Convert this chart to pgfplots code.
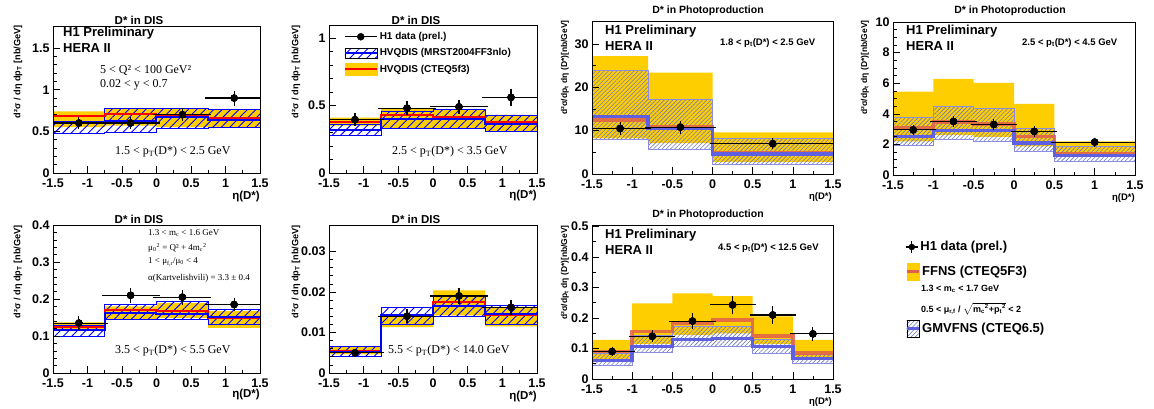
\documentclass[border=0pt]{standalone}
\usepackage{fontspec}
\setmainfont{Liberation Sans}
\newfontfamily\tms{Liberation Serif}
\usepackage{pgfplots}
\pgfplotsset{compat=1.18}
\usepackage{pgfplotstable}
\usepgfplotslibrary{fillbetween}
\usetikzlibrary{patterns.meta}

\definecolor{gold}{RGB}{255,206,0}
\definecolor{hrd}{RGB}{225,95,75}
\definecolor{hbl}{RGB}{95,95,225}
\definecolor{hout}{RGB}{140,140,225}
\definecolor{hhatch}{RGB}{110,120,190}

% ---------------- DIS tables: x yl yh yc bl bh bc
\pgfplotstableread{
x yl yh yc bl bh bc
-1.5 0.55 0.74 0.69 0.48 0.62 0.60
-0.75 0.57 0.78 0.71 0.49 0.78 0.63
0 0.55 0.78 0.69 0.54 0.78 0.67
0.75 0.55 0.76 0.66 0.55 0.76 0.64
1.5 0.55 0.76 0.66 0.55 0.76 0.64
}\thA
\pgfplotstableread{
x y ex es et
-1.125 0.60 0.375 0.035 0.055
-0.375 0.60 0.375 0.035 0.055
0.375 0.70 0.375 0.040 0.060
1.125 0.90 0.375 0.050 0.090
}\dA
\pgfplotstableread{
x yl yh yc bl bh bc
-1.5 0.35 0.41 0.375 0.28 0.36 0.32
-0.75 0.33 0.48 0.43 0.33 0.46 0.40
0 0.33 0.47 0.415 0.33 0.47 0.40
0.75 0.31 0.43 0.375 0.31 0.43 0.36
1.5 0.31 0.43 0.375 0.31 0.43 0.36
}\thB
\pgfplotstableread{
x y ex es et
-1.125 0.395 0.375 0.025 0.035
-0.375 0.48 0.375 0.030 0.045
0.375 0.49 0.375 0.030 0.045
1.125 0.56 0.375 0.040 0.065
}\dB
\pgfplotstableread{
x yl yh yc bl bh bc
-1.5 0.113 0.137 0.123 0.099 0.128 0.115
-0.75 0.144 0.180 0.171 0.144 0.185 0.162
0 0.149 0.189 0.168 0.146 0.194 0.160
0.75 0.122 0.167 0.149 0.131 0.171 0.151
1.5 0.122 0.167 0.149 0.131 0.171 0.151
}\thE
\pgfplotstableread{
x y ex es et
-1.125 0.135 0.375 0.010 0.015
-0.375 0.210 0.375 0.012 0.018
0.375 0.205 0.375 0.012 0.018
1.125 0.185 0.375 0.010 0.016
}\dE
\pgfplotstableread{
x yl yh yc bl bh bc
-1.5 0.0046 0.0066 0.0054 0.0041 0.0066 0.0052
-0.75 0.0113 0.0142 0.0140 0.0120 0.0161 0.0142
0 0.0142 0.0204 0.0175 0.0140 0.0188 0.0165
0.75 0.0115 0.0163 0.0142 0.0120 0.0166 0.0146
1.5 0.0115 0.0163 0.0142 0.0120 0.0166 0.0146
}\thF
\pgfplotstableread{
x y ex es et
-1.125 0.0050 0.375 0.0003 0.0005
-0.375 0.0140 0.375 0.0010 0.0015
0.375 0.0190 0.375 0.0013 0.0020
1.125 0.0162 0.375 0.0011 0.0017
}\dF
% ---------------- Photoproduction tables
\pgfplotstableread{
x yl yh yc bl bh bc
-1.5 8.2 27.2 12.5 8.0 23.8 13.3
-0.8 7.1 23.4 10.8 5.7 17.2 10.5
0 2.8 9.6 4.8 2.1 8.2 4.6
1.5 2.8 9.6 4.8 2.1 8.2 4.6
}\thC
\pgfplotstableread{
x y ex es et
-1.15 10.5 0.35 0.8 1.3
-0.4 10.8 0.4 0.8 1.4
0.75 7.0 0.75 0.6 1.0
}\dC
\pgfplotstableread{
x yl yh yc bl bh bc
-1.5 2.2 5.45 3.07 1.91 3.78 2.52
-1 2.6 6.28 3.46 2.3 4.48 2.91
-0.5 2.5 6.02 3.35 2.2 4.37 2.90
0 1.87 4.65 2.52 1.54 3.07 2.09
0.5 1.2 2.2 1.39 0.91 1.87 1.26
1.5 1.2 2.2 1.39 0.91 1.87 1.26
}\thD
\pgfplotstableread{
x y ex es et
-1.25 2.95 0.25 0.15 0.30
-0.75 3.50 0.25 0.15 0.30
-0.25 3.30 0.25 0.15 0.30
0.25 2.85 0.25 0.15 0.30
1.0 2.15 0.5 0.10 0.20
}\dD
\pgfplotstableread{
x yl yh yc bl bh bc
-1.5 0.062 0.128 0.090 0.046 0.084 0.060
-1 0.115 0.248 0.155 0.086 0.144 0.106
-0.5 0.145 0.281 0.183 0.106 0.172 0.130
0 0.150 0.272 0.194 0.108 0.172 0.133
0.5 0.115 0.205 0.141 0.084 0.130 0.106
1 0.065 0.128 0.086 0.051 0.079 0.068
1.5 0.065 0.128 0.086 0.051 0.079 0.068
}\thG
\pgfplotstableread{
x y ex es et
-1.25 0.090 0.25 0.006 0.010
-0.75 0.140 0.25 0.010 0.016
-0.25 0.190 0.25 0.015 0.025
0.25 0.243 0.25 0.020 0.030
0.75 0.210 0.25 0.018 0.028
1.25 0.148 0.25 0.014 0.022
}\dG

\pgfplotsset{
  rootax/.style={scale only axis, anchor=south west,
    xmin=-1.5, xmax=1.5,
    xtick={-1.5,-1,-0.5,0,0.5,1,1.5}, xticklabels={-1.5,-1,-0.5,0,0.5,1,1.5},
    scaled y ticks=false, scaled x ticks=false,
    minor x tick num=1, tick align=inside, xtick pos=bottom, ytick pos=left,
    major tick length=7pt, minor tick length=3.5pt,
    every tick/.style={black, line width=0.6pt},
    axis line style={line width=0.8pt},
    ticklabel style={font=\fontsize{12.5}{12.5}\selectfont\bfseries},
    xticklabel style={yshift=-2.5pt},
    /pgf/number format/assume math mode=true,
    axis on top, clip=true},
  datax/.style={only marks, mark=*, mark size=3.5pt, black, forget plot,
    error bars/.cd, x dir=both, x explicit,
    error bar style={line width=1.1pt, black},
    error mark options={black, line width=1.1pt, mark size=3pt}},
  datayt/.style={only marks, mark=*, mark size=3.5pt, black, forget plot,
    error bars/.cd, y dir=both, y explicit, error mark=none,
    error bar style={line width=1.1pt, black}},
  datays/.style={only marks, mark=*, mark size=3.5pt, black, forget plot,
    error bars/.cd, y dir=both, y explicit,
    error bar style={line width=1.1pt, black},
    error mark options={black, line width=1.1pt, mark size=3pt}},
  legax/.style={hide axis, scale only axis, anchor=south west, at={(893pt,-379pt)},
    width=242pt, height=154pt, xmin=0, xmax=1, ymin=0, ymax=1,
    legend style={draw=none, fill=none, font=\fontsize{13}{13}\selectfont\bfseries,
      inner sep=0pt, cells={anchor=west}}, legend cell align=left},
}

\newcommand{\datapts}[1]{%
  \addplot[datayt] table[x=x,y=y,y error=et]{#1};
  \addplot[datays] table[x=x,y=y,y error=es]{#1};
  \addplot[datax] table[x=x,y=y,x error=ex]{#1};
}
\newcommand{\disbands}[1]{%
  \addplot[const plot, draw=none, name path=yh, forget plot] table[x=x,y=yh]{#1};
  \addplot[const plot, draw=none, name path=yl, forget plot] table[x=x,y=yl]{#1};
  \addplot[fill=gold, draw=none, forget plot] fill between[of=yh and yl];
  \addplot[const plot, draw=blue, line width=0.7pt, name path=bh, forget plot] table[x=x,y=bh]{#1};
  \addplot[const plot, draw=blue, line width=0.7pt, name path=bl, forget plot] table[x=x,y=bl]{#1};
  \addplot[pattern={Lines[angle=45,distance=6pt,line width=0.9pt]}, pattern color=blue, draw=none, forget plot] fill between[of=bh and bl];
  \addplot[const plot, red, line width=2pt, forget plot] table[x=x,y=yc]{#1};
  \addplot[const plot, blue, line width=2pt, forget plot] table[x=x,y=bc]{#1};
}
\newcommand{\phbands}[1]{%
  \addplot[const plot, draw=none, name path=yh, forget plot] table[x=x,y=yh]{#1};
  \addplot[const plot, draw=none, name path=yl, forget plot] table[x=x,y=yl]{#1};
  \addplot[fill=gold, draw=none, forget plot] fill between[of=yh and yl];
  \addplot[const plot, draw=hout, line width=0.9pt, name path=bh, forget plot] table[x=x,y=bh]{#1};
  \addplot[const plot, draw=hout, line width=0.9pt, name path=bl, forget plot] table[x=x,y=bl]{#1};
  \addplot[pattern={Lines[angle=45,distance=3pt,line width=0.6pt]}, pattern color=hhatch, draw=none, forget plot] fill between[of=bh and bl];
  \addplot[const plot, hrd, line width=3.5pt, opacity=0.85, forget plot] table[x=x,y=yc]{#1};
  \addplot[const plot, hbl, line width=3.5pt, forget plot] table[x=x,y=bc]{#1};
}

\newcommand{\fb}[1]{\fontsize{#1}{#1}\selectfont\bfseries}
\newcommand{\fs}[1]{\fontsize{#1}{#1}\selectfont\tms}

\begin{document}
\begin{tikzpicture}

% ===== Panel 1
\begin{axis}[rootax, at={(53pt,-173pt)}, width=207pt, height=147pt,
  ymin=0, ymax=1.765, ytick={0,0.5,1,1.5}, yticklabels={0,0.5,1,1.5}, minor y tick num=4]
\disbands{\thA}
\datapts{\dA}
\end{axis}
% ===== Panel 2
\begin{axis}[rootax, at={(329pt,-173pt)}, width=208pt, height=148pt,
  ymin=0, ymax=1.096, ytick={0,0.5,1}, yticklabels={0,0.5,1}, minor y tick num=4,
  legend style={at={(rel axis cs:0.07,0.965)}, anchor=north west, draw=none, fill=none,
    font=\fb{10}, row sep=3.5pt, inner sep=0pt, cells={anchor=west}},
  legend cell align=left]
\disbands{\thB}
\datapts{\dB}
\addlegendimage{legend image code/.code={\draw[black,line width=1.1pt] (0pt,0pt)--(32pt,0pt); \fill[black] (16pt,0pt) circle (3.5pt);}}
\addlegendentry{H1 data (prel.)}
\addlegendimage{legend image code/.code={\fill[pattern={Lines[angle=45,distance=6pt,line width=0.9pt]}, pattern color=blue] (0pt,-5pt) rectangle (32pt,5pt); \draw[blue,line width=2pt] (0pt,0pt)--(32pt,0pt);}}
\addlegendentry{HVQDIS (MRST2004FF3nlo)}
\addlegendimage{legend image code/.code={\fill[gold] (0pt,-6pt) rectangle (32pt,6pt); \draw[red,line width=2pt] (0pt,0pt)--(32pt,0pt);}}
\addlegendentry{HVQDIS (CTEQ5f3)}
\end{axis}
% ===== Panel 3
\begin{axis}[rootax, at={(592pt,-174pt)}, width=241pt, height=153pt,
  ymin=0, ymax=35.3, ytick={0,10,20,30}, yticklabels={0,10,20,30}, minor y tick num=1]
\phbands{\thC}
\datapts{\dC}
\end{axis}
% ===== Panel 4
\begin{axis}[rootax, at={(893pt,-175pt)}, width=242pt, height=153pt,
  ymin=0, ymax=10, ytick={0,2,4,6,8,10}, yticklabels={0,2,4,6,8,10}, minor y tick num=3]
\phbands{\thD}
\datapts{\dD}
\end{axis}
% ===== Panel 5
\begin{axis}[rootax, at={(53pt,-373pt)}, width=207pt, height=148pt,
  ymin=0, ymax=0.4, ytick={0,0.1,0.2,0.3,0.4}, yticklabels={0,0.1,0.2,0.3,0.4}, minor y tick num=4]
\disbands{\thE}
\datapts{\dE}
\end{axis}
% ===== Panel 6
\begin{axis}[rootax, at={(329pt,-373pt)}, width=208pt, height=148pt,
  ymin=0, ymax=0.0365, ytick={0,0.01,0.02,0.03}, yticklabels={0,0.01,0.02,0.03}, minor y tick num=4]
\disbands{\thF}
\datapts{\dF}
\end{axis}
% ===== Panel 7
\begin{axis}[rootax, at={(592pt,-379pt)}, width=241pt, height=154pt,
  ymin=0, ymax=0.505, ytick={0,0.1,0.2,0.3,0.4,0.5}, yticklabels={0,0.1,0.2,0.3,0.4,0.5}, minor y tick num=1]
\phbands{\thG}
\datapts{\dG}
\end{axis}
% ===== Panel 8: legend only (three single-entry legends)
\begin{axis}[legax, legend style={at={(axis description cs:0.0496,0.857)}, anchor=west}]
\addplot[draw=none, forget plot] coordinates {(0,0) (1,1)};
\addlegendimage{legend image code/.code={\draw[black,line width=1.2pt] (0pt,0pt)--(12pt,0pt); \draw[black,line width=1.2pt] (6pt,-6pt)--(6pt,6pt); \fill[black] (6pt,0pt) circle (3pt);}}
\addlegendentry{H1 data (prel.)}
\end{axis}
\begin{axis}[legax, legend style={at={(axis description cs:0.0496,0.697)}, anchor=west}]
\addplot[draw=none, forget plot] coordinates {(0,0) (1,1)};
\addlegendimage{legend image code/.code={\fill[gold] (0pt,-8.5pt) rectangle (12pt,8.5pt); \draw[hrd,line width=3pt] (0pt,0pt)--(12pt,0pt);}}
\addlegendentry{FFNS (CTEQ5F3)}
\end{axis}
\begin{axis}[legax, legend style={at={(axis description cs:0.0496,0.327)}, anchor=west}]
\addplot[draw=none, forget plot] coordinates {(0,0) (1,1)};
\addlegendimage{legend image code/.code={\fill[pattern={Lines[angle=45,distance=3pt,line width=0.6pt]}, pattern color=hhatch] (0pt,-8.5pt) rectangle (12pt,8.5pt); \draw[hbl,line width=3pt] (0pt,0pt)--(12pt,0pt);}}
\addlegendentry{GMVFNS (CTEQ6.5)}
\end{axis}
\node[font=\fb{9}, anchor=west, inner sep=0pt] at (921pt,-289pt) {1.3 < m\textsubscript{c} < 1.7 GeV};
\node[font=\fb{9}, anchor=west, inner sep=0pt] at (921pt,-309pt) {0.5 < μ\textsubscript{r,f} / $\sqrt{\mbox{m\textsubscript{c}\textsuperscript{2}+p\textsubscript{t}\textsuperscript{2}}}$ < 2};

% ===== Titles
\node[font=\fb{11.5}] at (139pt,-20pt) {D* in DIS};
\node[font=\fb{11.5}] at (416pt,-20pt) {D* in DIS};
\node[font=\fb{10.5}] at (708pt,-11pt) {D* in Photoproduction};
\node[font=\fb{10.5}] at (1010pt,-11pt) {D* in Photoproduction};
\node[font=\fb{11.5}] at (139pt,-219pt) {D* in DIS};
\node[font=\fb{11.5}] at (416pt,-219pt) {D* in DIS};
\node[font=\fb{10.5}] at (708pt,-215pt) {D* in Photoproduction};

% ===== H1 Preliminary
\foreach \xx/\yy in {63/33, 605/31, 906/31, 605/235}{
  \node[font=\fb{13}, anchor=west, inner sep=0pt] at (\xx pt,-\yy pt) {H1 Preliminary};
  \node[font=\fb{13}, anchor=west, inner sep=0pt] at (\xx pt,-\yy pt-15pt) {HERA II};
}

% ===== DIS texts
\node[font=\fs{12}, anchor=west, inner sep=0pt] at (100pt,-70pt) {5 < Q² < 100 GeV²};
\node[font=\fs{12}, anchor=west, inner sep=0pt] at (100pt,-85pt) {0.02 < y < 0.7};
\node[font=\fs{12}, anchor=west, inner sep=0pt] at (115pt,-152pt) {1.5 < p\textsubscript{T}(D*) < 2.5 GeV};
\node[font=\fs{12}, anchor=west, inner sep=0pt] at (392pt,-152pt) {2.5 < p\textsubscript{T}(D*) < 3.5 GeV};
\node[font=\fs{12}, anchor=west, inner sep=0pt] at (115pt,-351pt) {3.5 < p\textsubscript{T}(D*) < 5.5 GeV};
\node[font=\fs{12}, anchor=west, inner sep=0pt] at (388pt,-351pt) {5.5 < p\textsubscript{T}(D*) < 14.0 GeV};
\node[font=\fs{9}, anchor=west, inner sep=0pt] at (148pt,-233pt) {1.3 < m\textsubscript{c} < 1.6 GeV};
\node[font=\fs{9}, anchor=west, inner sep=0pt] at (148pt,-248pt) {μ\textsubscript{0}\textsuperscript{2} = Q² + 4m\textsubscript{c}\textsuperscript{2}};
\node[font=\fs{9}, anchor=west, inner sep=0pt] at (148pt,-262pt) {1 < μ\textsubscript{f,r}/μ\textsubscript{0} < 4};
\node[font=\fs{9}, anchor=west, inner sep=0pt] at (148pt,-278pt) {α(Kartvelishvili) = 3.3 ± 0.4};

% ===== Photoproduction texts
\node[font=\fb{9.5}, anchor=west, inner sep=0pt] at (720pt,-43pt) {1.8 < p\textsubscript{t}(D*) < 2.5 GeV};
\node[font=\fb{9.5}, anchor=west, inner sep=0pt] at (1022pt,-43pt) {2.5 < p\textsubscript{t}(D*) < 4.5 GeV};
\node[font=\fb{9.5}, anchor=west, inner sep=0pt] at (718pt,-248pt) {4.5 < p\textsubscript{t}(D*) < 12.5 GeV};

% ===== x labels
\node[font=\fb{11.5}, anchor=east, inner sep=0pt] at (260pt,-197pt) {η(D*)};
\node[font=\fb{11.5}, anchor=east, inner sep=0pt] at (537pt,-196pt) {η(D*)};
\node[font=\fb{9.5}, anchor=east, inner sep=0pt] at (832pt,-197.5pt) {η(D*)};
\node[font=\fb{9.5}, anchor=east, inner sep=0pt] at (1135pt,-198.5pt) {η(D*)};
\node[font=\fb{11.5}, anchor=east, inner sep=0pt] at (260pt,-395pt) {η(D*)};
\node[font=\fb{11.5}, anchor=east, inner sep=0pt] at (537pt,-397pt) {η(D*)};
\node[font=\fb{9.5}, anchor=east, inner sep=0pt] at (832pt,-402pt) {η(D*)};

% ===== y labels
\foreach \xx/\yy in {18/25, 296/25, 18/225, 296/225}{
  \node[font=\fb{9.2}, rotate=90, anchor=east, inner sep=0pt] at (\xx pt,-\yy pt) {d²σ / dη dp\textsubscript{T} [nb/GeV]};
}
\foreach \xx/\yy in {565/20, 865/20, 565/225}{
  \node[font=\fb{8.5}, rotate=90, anchor=east, inner sep=0pt] at (\xx pt,-\yy pt) {d²σ/dp\textsubscript{t} dη (D*)[nb/GeV]};
}
\pgfresetboundingbox
\useasboundingbox (0pt,0pt) rectangle (1154pt,-408pt);
\end{tikzpicture}
\end{document}
